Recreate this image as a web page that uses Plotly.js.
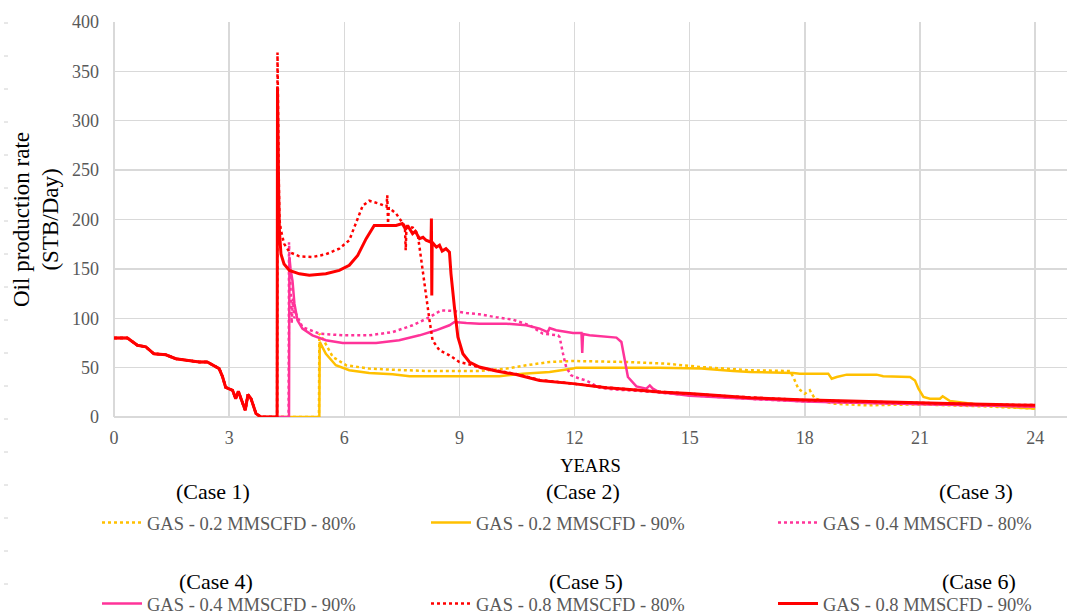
<!DOCTYPE html>
<html>
<head>
<meta charset="utf-8">
<script src="https://cdn.plot.ly/plotly-3.0.1.min.js"></script>
<style>html,body{margin:0;padding:0;background:#fff;}#chart{width:1067px;height:614px;}</style>
</head>
<body>
<div id="chart"></div>
<script>
// Shared primary-depletion history (all cases)
const earlyT = [0,0.35,0.61,0.83,1.04,1.35,1.61,1.96,2.22,2.43,2.61,2.74,2.83,2.91,3.09,3.17,3.24,3.42,3.49,3.57,3.70,3.83];
const earlyQ = [80,80,72.6,71,64,63,59,57,55.7,55.7,52,49,40.5,30,27,18.6,26,6.8,22.7,18.6,3.4,0];

// Case 1: GAS - 0.2 MMSCFD - 80%
const case1T = [5.34,5.35,5.44,5.7,6.05,6.65,7.26,8.13,9.52,10.22,10.74,11.35,11.96,13.35,14.39,15.3,16.57,17.61,17.7,17.83,18.0,18.13,18.26,18.74,19.61,20.9,22.65,24];
const case1Q = [0,84.4,79.4,60.8,52.4,49,47.9,46.6,46.6,49,52.4,55.7,56.7,55.7,54,50.6,47.3,46.6,40.5,28.7,23.6,27,18.6,13.5,11.8,12.8,10.8,8.5];

// Case 2: GAS - 0.2 MMSCFD - 90%
const case2T = [5.35,5.36,5.52,5.78,6.13,6.65,7.26,7.70,9.52,10.04,10.65,11.35,11.96,12.04,14.2,15.3,16.13,16.57,17.7,17.87,18.61,18.7,18.83,19.09,19.87,20.04,20.74,20.87,20.96,21.09,21.26,21.52,21.59,21.78,22.65,23.5,24];
const case2Q = [0,76,64,52.4,47.3,44.6,43.2,41.2,41.2,41.2,43.9,45.6,49,50,50,49,46.6,45.6,44.6,43.9,43.9,38.8,40.5,42.9,42.9,41.2,40.5,37,28.7,20.3,18.6,18.6,21,16.2,11.8,9.5,8.5];

// Case 3: GAS - 0.4 MMSCFD - 80%
const case3T = [4.55,4.56,4.60,4.63,4.66,4.70,4.74,4.91,5.35,5.96,6.65,7.26,7.78,8.22,8.52,8.83,9.18,9.52,9.96,10.39,10.83,11.17,11.57,11.61,11.7,11.78,11.91,12.13,12.3,12.65,13.0,13.5,14,15,16,17,18,19,20,21,22,23,24];
const case3Q = [0,177,130,95,120,100,104.7,91,84.4,82.7,82.7,86,92.9,101,108,107.4,105.3,104,101,98.6,92.9,84.4,82.7,81,64,50.6,42.2,38.8,37,29.7,28,27,25.5,22,19.5,17.5,15.8,14.8,13.8,13,12.2,11.3,10.5];

// Case 4: GAS - 0.4 MMSCFD - 90%
const case4T = [4.56,4.57,4.60,4.65,4.70,4.78,4.91,5.17,5.52,5.96,6.83,7.43,7.96,8.39,8.74,8.87,9.18,9.52,10.22,10.74,11.09,11.3,11.35,11.52,11.96,12.18,12.2,12.22,12.39,13.09,13.22,13.3,13.39,13.61,13.87,13.96,14.04,14.2,15,16,17,18,19,20,21,22,23,24];
const case4Q = [0,162,150,138,115,98,89.5,82.7,77.7,75,75,77.7,82.7,87.8,92.9,96.2,95.2,94.5,94.5,92.9,89.5,86,90,87.8,85,85,64.8,84,82.7,80.4,76,57.4,40.5,31,28.7,32,28.7,25.3,21.5,19.5,17.5,15.8,14.8,13.8,13,12.2,11.3,10.5];

// Case 5: GAS - 0.8 MMSCFD - 80%
const case5T = [4.25,4.26,4.29,4.31,4.35,4.43,4.57,4.83,5.17,5.52,5.87,6.13,6.30,6.48,6.65,6.91,7.10,7.12,7.14,7.16,7.35,7.48,7.58,7.60,7.62,7.78,7.91,7.96,8.04,8.13,8.22,8.30,8.48,8.74,9.0,9.35,9.52,9.96,10.48,11.09,11.96,12.83,13.7,14.2,15,16,17,18,19,20,21,22,23,24];
const case5Q = [0,369,250,200,189,175.6,167,162.7,162,164.8,170.5,179,196,214,219,216,213,224.5,196,212,206,199,193,169,192,192,185.7,172,148.5,121.5,98,77.7,67.5,62.5,55.7,52.4,50,47,43.5,37.5,33.5,30,27,25.5,23.5,21,19,17,16,15,14,13,12.5,12];

// Case 6: GAS - 0.8 MMSCFD - 90%
const case6T = [4.25,4.26,4.29,4.31,4.35,4.43,4.57,4.83,5.09,5.52,5.87,6.13,6.35,6.57,6.78,7.09,7.35,7.51,7.6,7.65,7.78,7.85,7.96,8.05,8.13,8.26,8.27,8.28,8.29,8.40,8.48,8.55,8.65,8.74,8.78,8.87,8.96,9.09,9.26,9.52,9.96,10.48,11.09,11.96,12.83,13.7,14.2,15.0,16.0,16.57,17.87,19.0,20.0,21.0,22.0,23.0,24.0];
const case6Q = [0,334,230,189,165,155,148.5,145,143.5,145,148.5,153.6,163.7,180.6,194,194,194,196,190,194,185.7,188,180.6,182,179,177,201,123,177,172,174,168,170.5,167,145,111,81,64,55.7,50.6,46.6,43,37,33.8,29.7,27,25.3,23.7,21,19.5,17.5,16.2,15.2,14.2,13.4,12.6,11.8];

const seriesNames = ["GAS - 0.2 MMSCFD - 80%","GAS - 0.2 MMSCFD - 90%","GAS - 0.4 MMSCFD - 80%","GAS - 0.4 MMSCFD - 90%","GAS - 0.8 MMSCFD - 80%","GAS - 0.8 MMSCFD - 90%"];
const caseLabels = ["(Case 1)","(Case 2)","(Case 3)","(Case 4)","(Case 5)","(Case 6)"];
const xTicks = [0,3,6,9,12,15,18,21,24];
const yTicks = [0,50,100,150,200,250,300,350,400];

const allT = [case1T,case2T,case3T,case4T,case5T,case6T];
const allQ = [case1Q,case2Q,case3Q,case4Q,case5Q,case6Q];
const colors = ["#FFC000","#FFC000","#FF3399","#FF3399","#FF0000","#FF0000"];
const dashes = ["dot","solid","dot","solid","dot","solid"];
const widths = [2.5,2.5,2.5,2.5,2.5,3];
const legendIds = ["legend","legend2","legend3","legend4","legend5","legend6"];

const serif = "Liberation Serif, Times New Roman, serif";

const traces = allT.map((t,i)=>({
  type:"scatter", mode:"lines",
  x: earlyT.concat(t), y: earlyQ.concat(allQ[i]),
  name: seriesNames[i],
  line:{color:colors[i], dash:dashes[i], width:widths[i]},
  legend: legendIds[i],
  hoverinfo:"skip"
}));

// plot area pixels: left 114, top 22, width 953, height 395
const W = 1067, H = 614, L = 114, T = 22, PW = 953, PH = 395;
const px = X => (X - L)/PW;
const py = Y => (T + PH - Y)/PH;

const legCols = [97, 426, 773];
const legRows = [523, 604];
const layout = {
  width:W, height:H,
  margin:{l:L, r:W-L-PW, t:T, b:H-T-PH, pad:0, autoexpand:false},
  paper_bgcolor:"#fff", plot_bgcolor:"#fff",
  font:{family:serif, color:"#595959"},
  xaxis:{range:[0,24.83], tickvals:xTicks, ticktext:xTicks.map(String), automargin:false,
    showgrid:true, gridcolor:"#D9D9D9", gridwidth:1.3, zeroline:true, zerolinecolor:"#D9D9D9", zerolinewidth:1.3,
    showline:false, ticks:"", tickfont:{family:serif,size:18,color:"#595959"}, ticklabelstandoff:8,
    title:{text:"YEARS", font:{family:serif,size:18.5,color:"#000"}, standoff:12}},
  yaxis:{range:[0,400], tickvals:yTicks, ticktext:yTicks.map(String), automargin:false,
    showgrid:true, gridcolor:"#D9D9D9", gridwidth:1.3, zeroline:true, zerolinecolor:"#D9D9D9", zerolinewidth:1.3,
    showline:false, ticks:"", tickfont:{family:serif,size:18,color:"#595959"}, ticklabelstandoff:14,
    title:{text:"Oil production rate<br>(STB/Day)", font:{family:serif,size:23,color:"#000"}, standoff:6}},
  showlegend:true,
  annotations:[],
  shapes:[]
};
legendIds.forEach((id,i)=>{
  const c = i%3, r = Math.floor(i/3);
  layout[id] = {x:px(legCols[c]), y:py(legRows[r]), xanchor:"left", yanchor:"middle",
    orientation:"h", bgcolor:"rgba(0,0,0,0)", borderwidth:0,
    font:{family:serif,size:18.5,color:"#595959"}, itemwidth:40};
});
const caseX = [213, 583, 976, 216, 586, 979];
const caseY = [491, 491, 491, 581, 581, 581];
caseLabels.forEach((txt,i)=>{
  layout.annotations.push({text:txt, xref:"paper", yref:"paper", x:px(caseX[i]), y:py(caseY[i]),
    xanchor:"center", yanchor:"middle", showarrow:false, font:{family:serif,size:22,color:"#000"}});
});
// faint tick stubs at the far left edge of the picture
for(let k=0;k<18;k++){
  const Y = 23 + 33*k;
  layout.shapes.push({type:"line", xref:"paper", yref:"paper", x0:px(4), x1:px(8), y0:py(Y), y1:py(Y),
    line:{color:"#D0D0D0", width:1}});
}
Plotly.newPlot("chart", traces, layout, {displayModeBar:false, staticPlot:true});
</script>
</body>
</html>
